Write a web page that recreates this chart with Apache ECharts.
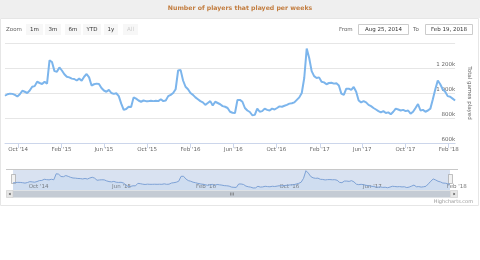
<!DOCTYPE html>
<html><head><meta charset="utf-8">
<script src="https://cdn.jsdelivr.net/npm/echarts@6/dist/echarts.min.js"></script>
<style>html,body{margin:0;padding:0;background:#fff}#c{width:480px;height:260px}</style>
</head><body><div id="c"></div>
<script>
// weekly values (thousands of games), first week = Aug 25, 2014, last = Feb 19, 2018
const startDate = '2014-08-25';
const endDate = '2018-02-19';
const weeklyGames = [
 978, 990, 995, 993, 985, 972, 990, 1018, 1010, 1000,
 1020, 1050, 1055, 1090, 1080, 1072, 1090, 1075, 1261, 1248,
 1175, 1170, 1205, 1180, 1150, 1130, 1125, 1115, 1112, 1100,
 1115, 1098, 1130, 1152, 1125, 1060, 1070, 1075, 1072, 1040,
 1020, 1010, 1025, 1000, 993, 998, 975, 915, 865, 872,
 890, 888, 965, 955, 940, 930, 940, 935, 935, 938,
 935, 938, 935, 950, 935, 940, 975, 985, 1000, 1030,
 1180, 1185, 1100, 1050, 1030, 1000, 985, 965, 950, 935,
 925, 905, 920, 935, 900, 930, 920, 910, 895, 890,
 880, 850, 842, 840, 945, 945, 930, 880, 860, 848,
 822, 825, 875, 850, 855, 875, 865, 860, 875, 868,
 880, 893, 890, 898, 905, 915, 918, 925, 945, 965,
 1000, 1120, 1355, 1280, 1175, 1135, 1120, 1125, 1090, 1085,
 1070, 1080, 1082, 1075, 1078, 1060, 995, 985, 1035, 1035,
 1025, 1048, 1010, 940, 925, 935, 925, 905, 895, 880,
 868, 855, 845, 855, 840, 845, 830, 850, 875, 868,
 860, 865, 855, 860, 835, 850, 880, 912, 860, 865,
 850, 860, 875, 950, 1030, 1100, 1070, 1030, 1010, 975,
 970, 955, 940
];
const tickDates = ['2014-10-01','2015-02-01','2015-06-01','2015-10-01','2016-02-01','2016-06-01','2016-10-01','2017-02-01','2017-06-01','2017-10-01','2018-02-01'];
const tickLabels = ["Oct '14","Feb '15","Jun '15","Oct '15","Feb '16","Jun '16","Oct '16","Feb '17","Jun '17","Oct '17","Feb '18"];
const navTickDates = ['2014-10-01','2015-06-01','2016-02-01','2016-10-01','2017-06-01','2018-02-01'];
const navTickLabels = ["Oct '14","Jun '15","Feb '16","Oct '16","Jun '17","Feb '18"];
const yTicks = [600, 800, 1000, 1200, 1400];
const zoomButtons = ['1m','3m','6m','YTD','1y','All'];
const fromText = 'Aug 25, 2014';
const toText = 'Feb 19, 2018';

const ts = s => { const p = s.split('-').map(Number); return Date.UTC(p[0], p[1]-1, p[2]); };
const t0 = ts(startDate), t1 = ts(endDate);
const WEEK = 7*24*3600*1000;
const data = weeklyGames.map((v,i) => [t0 + i*WEEK, v]);
const tickTs = tickDates.map(ts);
const navTs = navTickDates.map(ts);
const labelFor = (arrT, arrL) => v => { const k = arrT.indexOf(v); return k >= 0 ? arrL[k] : ''; };
const yFmt = v => v >= 1000 ? Math.floor(v/1000) + ' ' + String(v % 1000).padStart(3,'0') + 'k' : v + 'k';
const FF = 'DejaVu Sans';

const btnX = [26, 45, 65, 83, 104, 123];
const btnW = [17, 16, 16, 18, 14, 15];
const graphic = [
  {type:'rect', shape:{x:0,y:0,width:480,height:18}, style:{fill:'#efefef'}, silent:true},
  {type:'rect', shape:{x:0.5,y:18.5,width:478,height:187}, style:{fill:'none',stroke:'#e6e6e6',lineWidth:1}, silent:true},
  {type:'text', x:240, y:8, style:{text:'Number of players that played per weeks', fill:'#c27c3e', fontSize:6.2, fontWeight:'bold', fontFamily:FF, align:'center', verticalAlign:'middle'}},
  {type:'text', x:6, y:29.5, style:{text:'Zoom', fill:'#666', fontSize:5.5, fontFamily:FF, align:'left', verticalAlign:'middle'}},
  {type:'text', x:339, y:29.5, style:{text:'From', fill:'#666', fontSize:5.5, fontFamily:FF, align:'left', verticalAlign:'middle'}},
  {type:'rect', shape:{x:358.5,y:24.5,width:50,height:10}, style:{fill:'#fff',stroke:'#cccccc',lineWidth:1}},
  {type:'text', x:383.5, y:29.5, style:{text:fromText, fill:'#333', fontSize:5.5, fontFamily:FF, align:'center', verticalAlign:'middle'}},
  {type:'text', x:413, y:29.5, style:{text:'To', fill:'#666', fontSize:5.5, fontFamily:FF, align:'left', verticalAlign:'middle'}},
  {type:'rect', shape:{x:425.5,y:24.5,width:47,height:10}, style:{fill:'#fff',stroke:'#cccccc',lineWidth:1}},
  {type:'text', x:449, y:29.5, style:{text:toText, fill:'#333', fontSize:5.5, fontFamily:FF, align:'center', verticalAlign:'middle'}},
  {type:'line', shape:{x1:6,y1:169.5,x2:458,y2:169.5}, style:{stroke:'#c8c8c8',lineWidth:1}},
  {type:'rect', shape:{x:11.5,y:174.5,width:4,height:9}, style:{fill:'#f2f2f2',stroke:'#999',lineWidth:0.6}},
  {type:'rect', shape:{x:448.5,y:174.5,width:4,height:9}, style:{fill:'#f2f2f2',stroke:'#999',lineWidth:0.6}},
  {type:'rect', shape:{x:6,y:190.5,width:452,height:7}, style:{fill:'#f2f2f2'}},
  {type:'rect', shape:{x:13,y:190.5,width:437,height:7}, style:{fill:'#c4cbd4'}},
  {type:'rect', shape:{x:6.5,y:190.5,width:6.5,height:7}, style:{fill:'#e6e6e6',stroke:'#cccccc',lineWidth:0.6}},
  {type:'rect', shape:{x:450.5,y:190.5,width:7,height:7}, style:{fill:'#e6e6e6',stroke:'#cccccc',lineWidth:0.6}},
  {type:'polygon', shape:{points:[[8.7,194],[10.5,192.7],[10.5,195.3]]}, style:{fill:'#333'}},
  {type:'polygon', shape:{points:[[455.3,194],[453.5,192.7],[453.5,195.3]]}, style:{fill:'#333'}},
  {type:'line', shape:{x1:230.5,y1:192.5,x2:230.5,y2:195.5}, style:{stroke:'#666',lineWidth:0.6}},
  {type:'line', shape:{x1:232,y1:192.5,x2:232,y2:195.5}, style:{stroke:'#666',lineWidth:0.6}},
  {type:'line', shape:{x1:233.5,y1:192.5,x2:233.5,y2:195.5}, style:{stroke:'#666',lineWidth:0.6}},
  {type:'text', x:473, y:202, style:{text:'Highcharts.com', fill:'#999', fontSize:5, fontFamily:FF, align:'right', verticalAlign:'middle'}}
];
zoomButtons.forEach((b,i) => {
  graphic.push({type:'rect', shape:{x:btnX[i],y:24,width:btnW[i],height:11}, style:{fill:'#f7f7f7'}});
  graphic.push({type:'text', x:btnX[i]+btnW[i]/2, y:29.5, style:{text:b, fill: b==='All' ? '#cccccc' : '#333', fontSize:5.5, fontFamily:FF, align:'center', verticalAlign:'middle'}});
});

const chart = echarts.init(document.getElementById('c'), null, {renderer:'canvas'});
chart.setOption({
  animation:false,
  backgroundColor:'#fff',
  textStyle:{fontFamily:FF},
  grid:[
    {left:5, top:43, width:453, height:100},
    {left:13, top:169, width:437, height:21, show:true, backgroundColor:'#d9e2f1', borderWidth:0}
  ],
  xAxis:[
    {type:'value', gridIndex:0, min:t0, max:t1,
     axisLine:{lineStyle:{color:'#ccd6eb'}},
     axisTick:{show:true, customValues:tickTs, length:5, lineStyle:{color:'#ccd6eb'}},
     axisLabel:{customValues:tickTs, formatter:labelFor(tickTs,tickLabels), color:'#666', fontSize:5.5, margin:4, fontFamily:FF},
     splitLine:{show:false}},
    {type:'value', gridIndex:1, min:t0, max:t1,
     axisLine:{show:false}, axisTick:{show:false},
     axisLabel:{customValues:navTs, formatter:labelFor(navTs,navTickLabels), inside:true, align:'left', padding:[0,0,0,3], margin:0.5, color:'#777', fontSize:5.5, fontFamily:FF},
     splitLine:{show:false}}
  ],
  yAxis:[
    {type:'value', gridIndex:0, position:'right', min:yTicks[0], max:yTicks[yTicks.length-1], interval:200,
     axisLine:{show:false}, axisTick:{show:false},
     splitLine:{lineStyle:{color:'#e6e6e6'}},
     axisLabel:{inside:true, verticalAlign:'bottom', margin:0, showMaxLabel:false, color:'#666', fontSize:5.5, fontFamily:FF, formatter:yFmt},
     name:'Total games played', nameLocation:'middle', nameRotate:-90, nameGap:9,
     nameTextStyle:{color:'#666', fontSize:5.5, fontFamily:FF}},
    {type:'value', gridIndex:1, min:760, max:1407, show:false}
  ],
  series:[
    {type:'line', xAxisIndex:0, yAxisIndex:0, data:data, showSymbol:false, lineStyle:{color:'#7cb5ec', width:2}, itemStyle:{color:'#7cb5ec'}},
    {type:'line', xAxisIndex:1, yAxisIndex:1, data:data, showSymbol:false, lineStyle:{color:'#7ea2d6', width:1}, itemStyle:{color:'#7ea2d6'}, areaStyle:{color:'rgba(124,181,236,0.15)'}}
  ],
  graphic:graphic
});
</script></body></html>
